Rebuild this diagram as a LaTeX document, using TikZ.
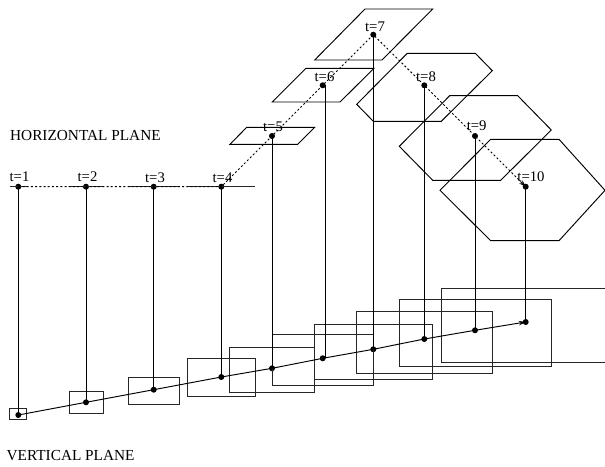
\documentclass[tikz,border=0pt]{standalone}
\usepackage{fontspec}
\setmainfont{Liberation Serif}
\usetikzlibrary{arrows.meta}
\tikzset{
  pt/.style={circle,fill=black,inner sep=0pt,minimum size=6pt},
  lbl/.style={inner sep=0pt,font=\fontsize{14.7}{16}\selectfont,anchor=base},
  plane/.style={inner sep=0pt,font=\fontsize{15.3}{17}\selectfont,anchor=base west},
  edge/.style={draw=black,line width=0.95pt},
  box/.style={draw=black!85,line width=0.95pt},
  track/.style={black,line width=0.95pt,dash pattern=on 2pt off 2.2pt},
  tip/.style={-{Stealth[length=7pt,width=4.5pt]}}
}
\begin{document}
\begin{tikzpicture}[x=1pt,y=-1pt]
\useasboundingbox (0,0) rectangle (605,466);
% top points
\foreach \n/\x/\y in {1/18.3/186.7,2/86/186.7,3/153.7/186.7,4/221.3/186.7,5/272/136,6/322.7/85.3,7/373.3/34.7,8/424.3/85.3,9/475/136,10/525.7/186.7}
  \node[pt] (h\n) at (\x,\y) {};
% bottom points
\foreach \n/\x/\y in {1/18.3/415,2/86/402.3,3/153.7/389.7,4/221.3/377,5/272/368.3,6/322.7/358.3,7/373.3/349.3,8/424.3/339,9/475/330.3,10/525.7/322}
  \node[pt] (v\n) at (\x,\y) {};
% shapes in horizontal plane
\draw[box] (9.7,186.7) -- (26.7,186.7);
\draw[box] (69,186.7) -- (103,186.7);
\draw[box] (128.3,186.7) -- (179.3,186.7);
\draw[box] (187.3,186.7) -- (255.3,186.7);
\draw[edge] (230,144.3) -- (246.7,127.3) -- (314.7,127.3) -- (297.7,144.3) -- cycle;
\draw[edge] (272.3,102) -- (306,68.3) -- (374,68.3) -- (340,102) -- cycle;
\draw[edge] (314.7,60) -- (365,9) -- (432.7,9) -- (382,60) -- cycle;
\draw[edge] (356.7,104.3) -- (407.3,53.3) -- (475.3,53.3) -- (492.3,70.7) -- (441.3,121.3) -- (373.3,121.3) -- cycle;
\draw[edge] (399.3,146.3) -- (449.7,95.7) -- (517.7,95.7) -- (551.3,130) -- (500.7,180.3) -- (432.7,180.3) -- cycle;
\draw[edge] (440,190.3) -- (490.7,139.3) -- (559,139.3) -- (605,190.3) -- (559,240.7) -- (490.7,240.7) -- cycle;
% boxes in vertical plane
\draw[box] (9.7,408.7) rectangle (26.7,419.3);
\draw[box] (69,391.7) rectangle (103,413);
\draw[box] (128.3,377) rectangle (179.3,404.7);
\draw[box] (187.3,358.3) rectangle (255.3,396.3);
\draw[box] (229.7,347.7) rectangle (314.7,392);
\draw[box] (272,334.7) rectangle (373.7,385.7);
\draw[box] (314.7,324.3) rectangle (432.7,379.3);
\draw[box] (356.7,311.7) rectangle (492,373);
\draw[box] (399,299) rectangle (551.3,366.3);
\draw[box] (441.3,288.3) rectangle (605,362.3);
% verticals
\foreach \n/\x in {1/18.3,2/86,3/153.7,4/221.3,5/272,6/325,7/373.3,8/424.3,9/475,10/525.7} {
  \draw[edge] (h\n.center -| \x,0) -- (v\n.center -| \x,0);
}
% tracks
\draw[track,tip] (h1.center) -- (h2.center) -- (h3.center) -- (h4.center) -- (h5.center) -- (h6.center) -- (h7.center) -- (h8.center) -- (h9.center) -- (h10.center);
\draw[edge,tip] (v1.center) -- (v2.center) -- (v3.center) -- (v4.center) -- (v5.center) -- (v6.center) -- (v7.center) -- (v8.center) -- (v9.center) -- (v10.center);
% labels
\node[lbl] (t1) at (19.5,181.3) {t=1};
\node[lbl] (t2) at (87.5,181.3) {t=2};
\node[lbl] (t3) at (155,182.3) {t=3};
\node[lbl] (t4) at (222.5,182.3) {t=4};
\node[lbl] (t5) at (273,131) {t=5};
\node[lbl] (t6) at (324.5,81) {t=6};
\node[lbl] (t7) at (375,31) {t=7};
\node[lbl] (t8) at (426,81) {t=8};
\node[lbl] (t9) at (476.7,130) {t=9};
\node[lbl] (t10) at (531,181) {t=10};
\node[plane] (hp) at (10,140) {HORIZONTAL PLANE};
\node[plane] (vp) at (6.5,460) {VERTICAL PLANE};
\end{tikzpicture}
\end{document}
